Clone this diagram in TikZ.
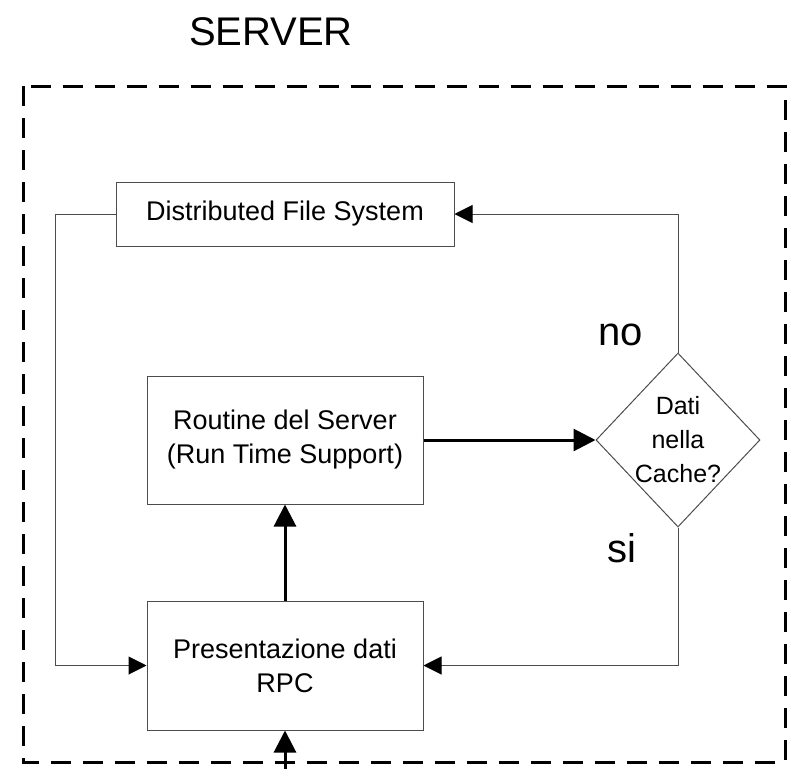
\documentclass[tikz,border=0pt]{standalone}
\usepackage{fontspec}
\setmainfont{Liberation Sans}
\usetikzlibrary{arrows.meta,shapes.geometric}
\definecolor{thinline}{gray}{0.3}
\tikzset{
  box/.style={draw=thinline, line width=1pt, fill=white, inner sep=0pt, align=center,
    font=\fontsize{27}{34}\selectfont},
  thinarrow/.style={draw=thinline, line width=1pt, -{Triangle[length=18pt,width=18pt,color=black]}},
  thickarrow/.style={draw=black, line width=3pt, -{Triangle[length=22pt,width=22pt]}},
  biglabel/.style={font=\fontsize{40}{48}\selectfont, inner sep=0pt},
  border/.style={draw=black, line width=3pt, dash pattern=on 20pt off 12pt}
}
\begin{document}
\begin{tikzpicture}[x=1pt,y=-1pt]
\useasboundingbox (0,0) rectangle (796,769);
\clip (0,0) rectangle (796,769);
\draw[border] (23,86) rectangle (785,762);
\node[biglabel, anchor=base] (title) at (271,45) {SERVER};
\node[box, minimum width=338pt, minimum height=64pt] (dfs) at (285,214) {Distributed File System};
\node[box, minimum width=276pt, minimum height=128pt] (rts) at (285,440) {Routine del Server\\(Run Time Support)};
\node[box, minimum width=276pt, minimum height=129pt] (pres) at (285,665.5) {Presentazione dati\\RPC};
\node[diamond, draw=thinline, line width=1pt, inner sep=0pt, minimum width=164pt, minimum height=174pt] (dec) at (678,440) {};
\node[align=center, inner sep=0pt, font=\fontsize{25}{34}\selectfont] (dectext) at (dec.center) {Dati\\nella\\Cache?};
\node[biglabel, anchor=base] (no) at (621,345) {no};
\node[biglabel, anchor=base] (si) at (622,562) {si};
\coordinate (entry) at (285,775);
\coordinate (leftbend) at (55,214);
\draw[thickarrow] (rts.east) -- (dec.west);
\draw[thickarrow] (pres.north) -- (rts.south);
\draw[thickarrow] (entry) -- (pres.south);
\draw[thinarrow] (dec.north) |- (dfs.east);
\draw[thinarrow] (dec.south) |- (pres.east);
\draw[thinarrow] (dfs.west) -- (leftbend) |- (pres.west);
\end{tikzpicture}
\end{document}
